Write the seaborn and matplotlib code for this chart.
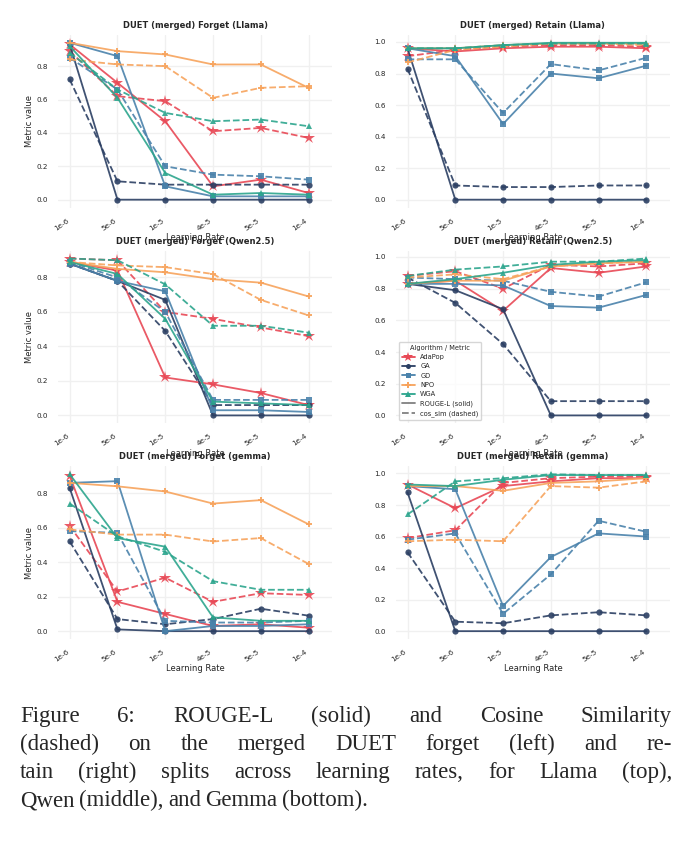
import matplotlib
matplotlib.use('Agg')
import matplotlib.pyplot as plt
import seaborn as sns
import numpy as np
from matplotlib.lines import Line2D

# learning rates (categorical x axis)
lrs = ['1e-6', '5e-6', '1e-5', '4e-5', '5e-5', '1e-4']
algos = ['AdaPop', 'GA', 'GD', 'NPO', 'WGA']

# ---- Llama ----
llama_forget_rouge = {
    'AdaPop': [.93, .70, .47, .08, .12, .04],
    'GA':     [.93, 0, 0, 0, 0, 0],
    'GD':     [.94, .86, .08, .02, .02, .02],
    'NPO':    [.94, .89, .87, .81, .81, .67],
    'WGA':    [.92, .61, .16, .03, .04, .03],
}
llama_forget_cos = {
    'AdaPop': [.89, .62, .59, .41, .43, .37],
    'GA':     [.72, .11, .09, .09, .09, .09],
    'GD':     [.85, .66, .20, .15, .14, .12],
    'NPO':    [.84, .81, .80, .61, .67, .68],
    'WGA':    [.88, .66, .52, .47, .48, .44],
}
llama_retain_rouge = {
    'AdaPop': [.96, .94, .96, .97, .97, .96],
    'GA':     [.96, 0, 0, 0, 0, 0],
    'GD':     [.96, .91, .48, .80, .77, .85],
    'NPO':    [.96, .96, .98, .99, .99, .99],
    'WGA':    [.96, .96, .98, .995, .995, .995],
}
llama_retain_cos = {
    'AdaPop': [.91, .95, .97, .98, .98, .97],
    'GA':     [.83, .09, .08, .08, .09, .09],
    'GD':     [.89, .89, .55, .86, .82, .90],
    'NPO':    [.87, .95, .97, .99, .99, .98],
    'WGA':    [.96, .96, .98, .99, .99, .99],
}

# ---- Qwen2.5 ----
qwen_forget_rouge = {
    'AdaPop': [.89, .84, .22, .18, .13, .06],
    'GA':     [.88, .78, .67, 0, 0, 0],
    'GD':     [.88, .78, .72, .03, .03, .02],
    'NPO':    [.89, .85, .83, .79, .77, .69],
    'WGA':    [.89, .82, .56, .08, .07, .06],
}
qwen_forget_cos = {
    'AdaPop': [.91, .90, .60, .56, .51, .46],
    'GA':     [.88, .78, .49, .06, .06, .06],
    'GD':     [.89, .80, .60, .09, .09, .09],
    'NPO':    [.89, .87, .86, .82, .67, .58],
    'WGA':    [.91, .90, .76, .52, .52, .48],
}
qwen_retain_rouge = {
    'AdaPop': [.83, .85, .66, .93, .90, .94],
    'GA':     [.83, .79, .67, 0, 0, 0],
    'GD':     [.83, .83, .82, .69, .68, .76],
    'NPO':    [.83, .85, .85, .94, .96, .97],
    'WGA':    [.83, .86, .90, .95, .97, .98],
}
qwen_retain_cos = {
    'AdaPop': [.88, .91, .80, .95, .94, .96],
    'GA':     [.87, .71, .45, .09, .09, .09],
    'GD':     [.87, .86, .85, .78, .75, .84],
    'NPO':    [.87, .89, .86, .94, .96, .97],
    'WGA':    [.88, .92, .94, .97, .97, .99],
}

# ---- gemma ----
gemma_forget_rouge = {
    'AdaPop': [.90, .17, .10, .03, .04, .02],
    'GA':     [.83, .01, 0, 0, 0, 0],
    'GD':     [.86, .87, .00, .03, .03, .04],
    'NPO':    [.86, .84, .81, .74, .76, .62],
    'WGA':    [.91, .54, .49, .08, .06, .06],
}
gemma_forget_cos = {
    'AdaPop': [.61, .23, .31, .17, .22, .21],
    'GA':     [.52, .07, .04, .07, .13, .09],
    'GD':     [.58, .57, .06, .05, .05, .06],
    'NPO':    [.59, .56, .56, .52, .54, .39],
    'WGA':    [.74, .55, .46, .29, .24, .24],
}
gemma_retain_rouge = {
    'AdaPop': [.93, .78, .92, .95, .97, .97],
    'GA':     [.88, 0, 0, 0, 0, 0],
    'GD':     [.92, .90, .16, .47, .62, .60],
    'NPO':    [.92, .92, .89, .94, .95, .97],
    'WGA':    [.93, .92, .96, .99, .99, .99],
}
gemma_retain_cos = {
    'AdaPop': [.59, .64, .94, .97, .98, .98],
    'GA':     [.50, .06, .05, .10, .12, .10],
    'GD':     [.58, .62, .11, .36, .70, .63],
    'NPO':    [.57, .58, .57, .92, .91, .95],
    'WGA':    [.74, .95, .97, .995, .99, .99],
}

colors = {'AdaPop': '#e84855', 'GA': '#2b3f63', 'GD': '#4a82ab',
          'NPO': '#f7a35c', 'WGA': '#2ca58d'}
markers = {'AdaPop': '*', 'GA': 'o', 'GD': 's', 'NPO': 'P', 'WGA': '^'}
msizes = {'AdaPop': 9, 'GA': 4.5, 'GD': 4.5, 'NPO': 5, 'WGA': 5}

panels = [
    ('DUET (merged) Forget (Llama)', llama_forget_rouge, llama_forget_cos),
    ('DUET (merged) Retain (Llama)', llama_retain_rouge, llama_retain_cos),
    ('DUET (merged) Forget (Qwen2.5)', qwen_forget_rouge, qwen_forget_cos),
    ('DUET (merged) Retain (Qwen2.5)', qwen_retain_rouge, qwen_retain_cos),
    ('DUET (merged) Forget (gemma)', gemma_forget_rouge, gemma_forget_cos),
    ('DUET (merged) Retain (gemma)', gemma_retain_rouge, gemma_retain_cos),
]

sns.set_theme(style='whitegrid')
plt.rcParams['grid.color'] = '#f0f0f0'
fig, axes = plt.subplots(3, 2, figsize=(6.96, 8.52), dpi=100)
fig.subplots_adjust(left=0.083, right=0.963, top=0.959, bottom=0.25,
                    hspace=0.25, wspace=0.23)

x = np.arange(len(lrs))
for ax, (title, rouge, cos) in zip(axes.flat, panels):
    for a in algos:
        sns.lineplot(x=x, y=rouge[a], ax=ax, color=colors[a], marker=markers[a],
                     markersize=msizes[a], markeredgewidth=0, lw=1.3, alpha=0.9)
        sns.lineplot(x=x, y=cos[a], ax=ax, color=colors[a], marker=markers[a],
                     markersize=msizes[a], markeredgewidth=0, lw=1.3, alpha=0.9,
                     linestyle='--')
    ax.set_title(title, fontsize=6, fontweight='bold', pad=5)
    ax.set_xticks(x)
    ax.set_xticklabels(lrs, rotation=35, fontsize=5.2, ha='right')
    ax.tick_params(axis='y', labelsize=5.2, pad=1)
    ax.tick_params(axis='x', pad=1)
    ax.set_xlabel('Learning Rate', fontsize=6, labelpad=1)
    ax.set_xlim(-0.25, 5.5)
    if ax in axes[:, 0]:
        ax.set_ylabel('Metric value', fontsize=6, labelpad=2)
    for s in ax.spines.values():
        s.set_visible(False)

# legend in Qwen retain panel
handles = [Line2D([], [], color=colors[a], marker=markers[a], markersize=msizes[a] * 0.8,
                  markeredgewidth=0, lw=1.3) for a in algos]
handles += [Line2D([], [], color='gray', lw=1.3),
            Line2D([], [], color='gray', lw=1.3, ls='--')]
labels = algos + ['ROUGE-L (solid)', 'cos_sim (dashed)']
axes[1, 1].legend(handles, labels, title='Algorithm / Metric', fontsize=4.8,
                  title_fontsize=4.8, loc='lower left', frameon=True,
                  bbox_to_anchor=(0.0, 0.0))

# caption, justified line by line
caption_lines = ["Figure 6:  ROUGE-L (solid) and Cosine Similarity",
                 "(dashed) on the merged DUET forget (left) and re-",
                 "tain (right) splits across learning rates, for Llama (top),",
                 "Qwen (middle), and Gemma (bottom)."]
renderer = fig.canvas.get_renderer()
W, H = fig.get_size_inches() * fig.dpi
x0, x1 = 20, 672
for i, line in enumerate(caption_lines):
    ypx = 722 + 28 * i
    words = line.split(' ')
    words = [w for w in words if w]
    texts = [fig.text(0, 1 - ypx / H, w, fontsize=16.5, family='Liberation Serif',
                      ha='left', va='baseline') for w in words]
    widths = [t.get_window_extent(renderer).width for t in texts]
    if i < len(caption_lines) - 1:
        gap = (x1 - x0 - sum(widths)) / (len(words) - 1)
    else:
        gap = 4.5
    cx = x0
    for t, w in zip(texts, widths):
        t.set_x(cx / W)
        cx += w + gap

plt.savefig('out.png', dpi=100)
